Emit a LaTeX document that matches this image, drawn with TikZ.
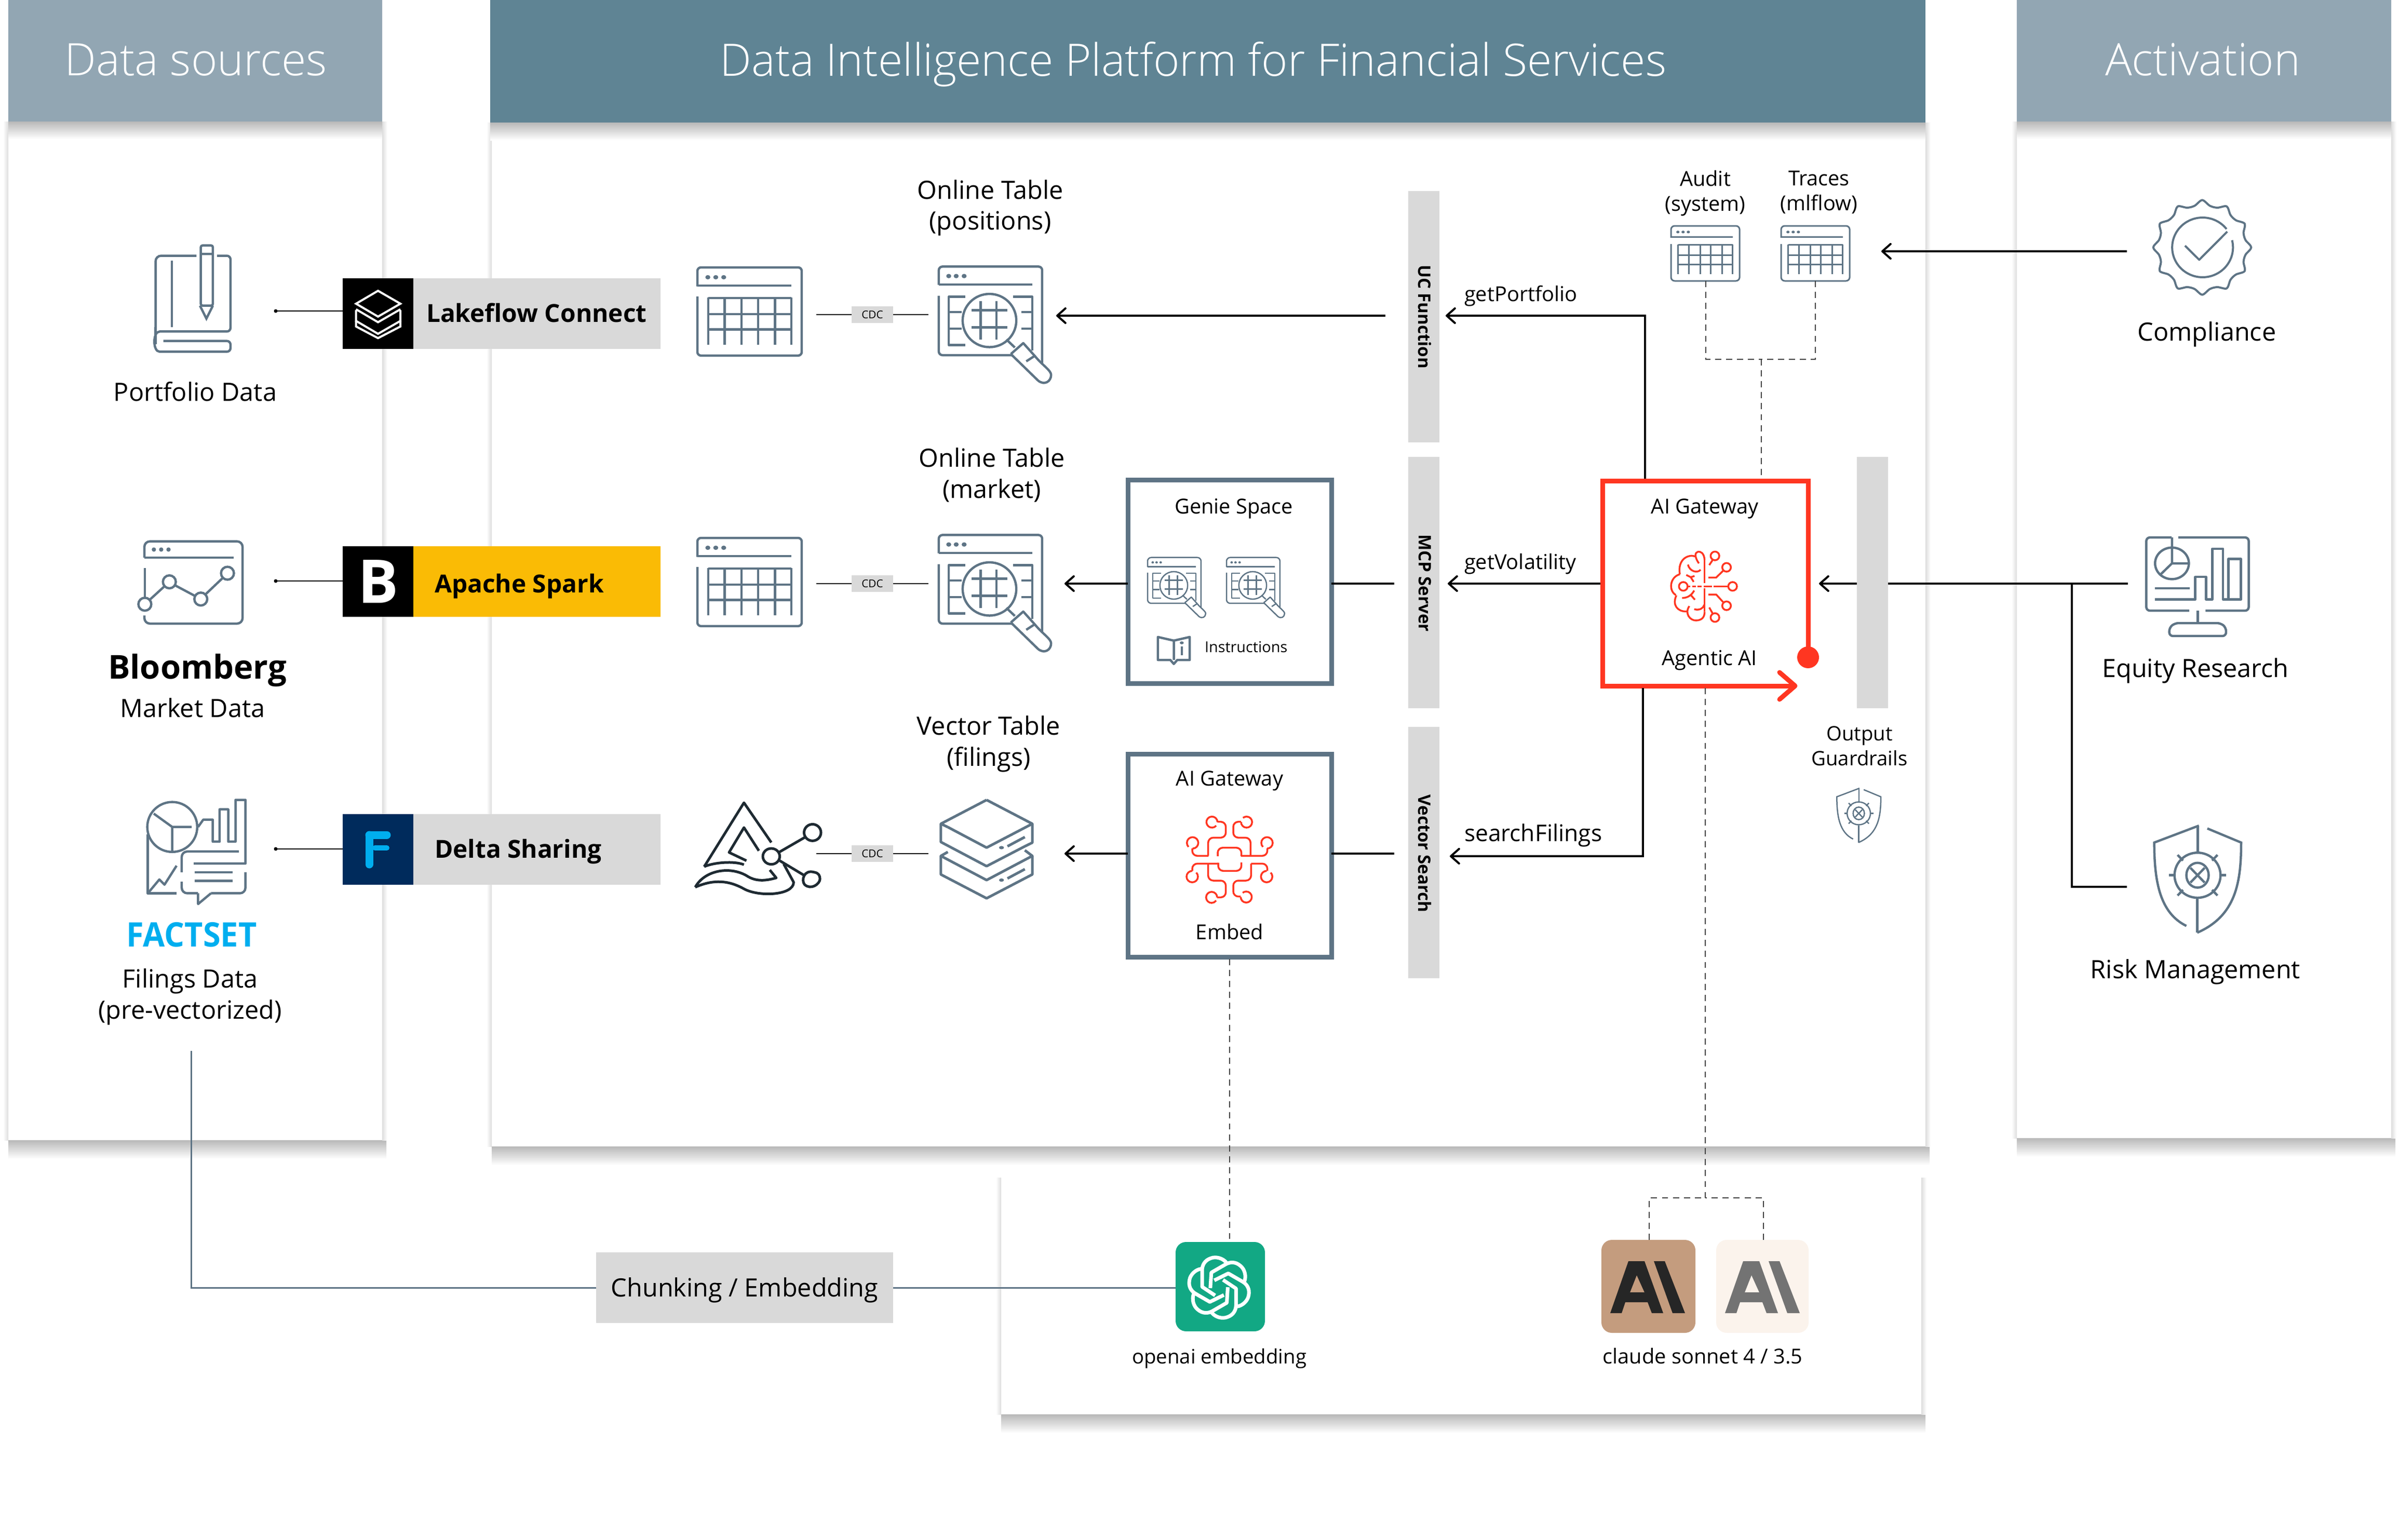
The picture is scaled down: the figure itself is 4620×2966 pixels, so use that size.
\documentclass[tikz,border=0pt]{standalone}
\usepackage{fontspec}
\setmainfont{Open Sans}
\IfFontExistsTF{Open Sans Light}{\newfontfamily\lightface{Open Sans Light}}{\newfontfamily\lightface{Open Sans}}
\usetikzlibrary{arrows.meta}
\definecolor{hdrA}{HTML}{92A6B3}
\definecolor{hdrB}{HTML}{5F8494}
\definecolor{slateC}{HTML}{5E7485}
\definecolor{grayC}{HTML}{D9D9D9}
\definecolor{redC}{HTML}{FF3621}
\definecolor{yelC}{HTML}{FABB05}
\definecolor{navyC}{HTML}{002B5C}
\definecolor{cyanC}{HTML}{00AEEF}
\definecolor{tealC}{HTML}{12A884}
\definecolor{tanC}{HTML}{C49C7E}
\definecolor{creamC}{HTML}{FBF3EC}
\definecolor{inkC}{HTML}{1E2A32}
\definecolor{shdC}{HTML}{B8B8B8}
\definecolor{shdM}{HTML}{ECECEC}
\definecolor{sideC}{HTML}{DDDDDD}
\tikzset{
  lw/.style={line width=#1*0.01cm},
  ic/.style n args={6}{shift={(#1,#2)},xscale=#3,yscale=#4,shift={(-#5,-#6)}},
  tb/.style={inner sep=0pt,outer sep=0pt,align=center},
  lab/.style={tb,execute at begin node=\strut,execute at end node=\strut},
  big/.style={lab,yshift=-1.6pt,font=\fontsize{13.8}{17}\selectfont},
  mid/.style={lab,yshift=-1.35pt,font=\fontsize{11.3}{13.6}\selectfont},
  midless/.style={lab,yshift=-1.35pt,font=\fontsize{10.9}{13.6}\selectfont},
  midplus/.style={lab,yshift=-1.5pt,font=\fontsize{12.6}{15}\selectfont},
  hdrtext/.style={lab,yshift=-3.4pt,text=white,font=\lightface\fontsize{24.5}{26}\selectfont},
  strong/.style={lab,yshift=-1.9pt,font=\bfseries\fontsize{13.6}{15}\selectfont},
  vert/.style={tb,rotate=-90,font=\bfseries\fontsize{9.4}{11}\selectfont},
  conn/.style={draw=black,lw=4,{Straight Barb[length=4.5pt,width=8pt,round]}-},
  plainconn/.style={draw=black,lw=4},
  thin conn/.style={draw=black,lw=2},
  dash conn/.style={draw=black!75,lw=2,dash pattern=on 3.4pt off 2.6pt},
  slate conn/.style={draw=slateC,lw=3},
  box/.style={draw=slateC,lw=9,fill=white},
}
\newcommand\pbox[7]{\node[inner sep=0pt,outer sep=0pt,minimum width={(#4-#2)*0.01cm},minimum height={(#5-#3)*0.01cm},#6] (#1) at ({(#2+#4)/2},{(#3+#5)/2}) {#7};}
\newcommand\carc[5]{\draw ({#1+#3*cos(#4)},{#2+#3*sin(#4)}) arc[start angle=#4,end angle=#5,radius=#3];}
\newcommand\sidepanel[4]{%
  \shade[top color=shdC,middle color=shdM,bottom color=white] (#1,#4) rectangle (#3+8,#4+36);
  \shade[left color=white,right color=sideC] (#1-10,#2) rectangle (#1,#4);
  \shade[left color=sideC,right color=white] (#3,#2) rectangle (#3+10,#4);
}
\newcommand\hdrshadow[3]{\shade[top color=shdC,middle color=shdM,bottom color=white] (#1,#3) rectangle (#2,#3+34);}
\newcommand\tableicon[5]{%
\begin{scope}[ic={#1}{#2}{#3}{#4}{66}{378},draw=slateC,fill=slateC,lw=#5,line cap=butt]
 \draw[rounded corners=2pt] (66,430)--(66,378)--(276,378)--(276,620)--(66,620)--(66,458);
 \draw (66,428)--(255,428);
 \fill (87,405) ellipse[x radius=5,y radius=6] (103,405) ellipse[x radius=5,y radius=6] (119,405) ellipse[x radius=5,y radius=6];
 \foreach \a in {88,121,155,188,222,255}{\draw (\a,460)--(\a,590);}
 \foreach \b in {462,506,548}{\draw (88,\b)--(255,\b);}
\end{scope}}
\newcommand\searchicon[5]{%
\begin{scope}[ic={#1}{#2}{#3}{#4}{550}{373},draw=slateC,fill=slateC,lw=#5,line join=round]
 \draw[rounded corners=2pt] (552,425)--(552,375)--(760,375)--(760,640);
 \draw (552,424)--(740,424);
 \fill (572,401) ellipse[x radius=5,y radius=6] (587,401) ellipse[x radius=5,y radius=6] (603,401) ellipse[x radius=5,y radius=6];
 \draw[rounded corners=2pt] (552,455)--(552,618)--(700,618);
 \draw (654,523) ellipse[x radius=54,y radius=73];
 \draw (636,470)--(636,575) (668,470)--(668,575) (618,495)--(690,495) (618,542)--(690,542);
 \draw (605,458)--(572,458)--(572,590)--(605,590) (572,500)--(598,500) (572,545)--(598,545);
 \draw (702,458)--(740,458)--(740,605) (718,500)--(740,500) (718,545)--(740,545);
 \draw (688,575)--(705,597);
 \draw (697,615)--(722,585)--(745,620)--(728,635);
 \draw (697,615)--(752,688) .. controls (765,702) and (778,690) .. (778,672) .. controls (778,660) and (760,645) .. (745,620);
\end{scope}}
\newcommand\shieldicon[5]{%
\begin{scope}[ic={#1}{#2}{#3}{#4}{842}{1188},draw=slateC,lw=#5]
 \draw (975,1190)--(843,1220) .. controls (843,1290) and (860,1345) .. (938,1368);
 \draw (972,1190)--(972,1240) (970,1320)--(970,1380);
 \draw (1000,1195)--(1100,1220) .. controls (1100,1290) and (1085,1350) .. (970,1380);
 \draw (971,1278) ellipse[x radius=68,y radius=40];
 \draw (971,1278) ellipse[x radius=33,y radius=22];
 \draw (950,1265)--(992,1291) (992,1265)--(950,1291);
 \draw (887,1278)--(903,1278) (1040,1278)--(1056,1278);
 \draw (912,1242)--(928,1252) (1030,1242)--(1014,1252) (912,1314)--(928,1304) (1030,1314)--(1014,1304);
\end{scope}}
\begin{document}
\begin{tikzpicture}[x=0.01cm,y=-0.01cm]
\useasboundingbox (0,0) rectangle (4620,2966);
% panels
\sidepanel{16}{234}{736}{2196}
\sidepanel{947}{236}{3708}{2208}
\sidepanel{3884}{234}{4605}{2192}
\sidepanel{1928}{2268}{3700}{2724}
\hdrshadow{16}{736}{234}
\hdrshadow{944}{3708}{236}
\hdrshadow{3884}{4605}{234}
\pbox{hA}{16}{0}{736}{234}{fill=hdrA}{}
\pbox{hB}{944}{0}{3708}{236}{fill=hdrB}{}
\pbox{hC}{3884}{0}{4605}{234}{fill=hdrA}{}
\node[hdrtext] (tA) at (377,115) {Data sources};
\node[hdrtext] (tB) at (2298,115) {Data Intelligence Platform for Financial Services};
\node[hdrtext] (tC) at (4242,115) {Activation};
% source labels
\begin{scope}[ic={298}{471}{0.829}{0.829}{360}{568},draw=slateC,lw=4.5]
 \draw[rounded corners=3pt] (457,594)--(362,594)--(362,770);
 \draw (400,605)--(400,760);
 \draw[rounded corners=2pt] (505,594)--(536,594)--(536,770)--(380,770) .. controls (355,770) and (355,817) .. (380,817)--(536,817)--(536,792)--(380,792);
 \draw (362,760)--(362,800);
 \draw[rounded corners=1pt] (467,710)--(467,570)--(495,570)--(495,710)--cycle;
 \draw (467,590)--(495,590) (465,710)--(480,740)--(495,710);
\end{scope}
\node[big] (lPort) at (376,755) {Portfolio Data};
\begin{scope}[ic={264}{1041}{0.829}{0.829}{318}{1256},draw=slateC,lw=4.5]
 \draw[rounded corners=3pt] (335,1296)--(335,1258)--(563,1258)--(563,1449)--(335,1449)--(335,1430);
 \draw (335,1296)--(542,1296);
 \fill[slateC] (357,1277) circle[radius=5] (374,1277) circle[radius=5] (391,1277) circle[radius=5];
 \draw (336,1320)--(336,1390);
 \draw (336,1404) circle[radius=15] (393,1352) circle[radius=15] (466,1392) circle[radius=15] (528,1332) circle[radius=15];
 \draw (347,1394)--(382,1362) (406,1360)--(453,1385) (477,1381)--(517,1343);
\end{scope}
\node[lab,yshift=-2.3pt,font=\bfseries\fontsize{18}{21}\selectfont] (lBloom) at (380,1285) {Bloomberg};
\node[big] (lMarket) at (371,1364) {Market Data};
\begin{scope}[ic={282}{1538}{0.829}{0.829}{340}{1587},draw=slateC,lw=4.5,line join=round]
 \draw (400,1653) circle[radius=58];
 \draw (357,1622)--(400,1653)--(445,1653) (400,1653)--(400,1710);
 \draw (460,1653)--(472,1636)--(494,1636)--(494,1687)--(510,1687)--(510,1612)--(530,1612)--(530,1687)--(547,1687)--(547,1590)--(570,1590)--(570,1738)--(450,1738);
 \draw[rounded corners=3pt] (555,1710)--(422,1710)--(422,1758);
 \draw (452,1758)--(540,1758) (452,1778)--(540,1778);
 \draw[rounded corners=3pt] (422,1780)--(422,1807)--(460,1807);
 \draw (460,1807)--(460,1832)--(490,1807);
 \draw[rounded corners=3pt] (490,1807)--(570,1807)--(570,1758);
 \draw (343,1670)--(343,1807)--(410,1807);
 \draw (345,1805)--(370,1775)--(382,1787)--(410,1743);
\end{scope}
\node[tb,text=cyanC,xscale=0.94,font=\bfseries\fontsize{18.5}{20}\selectfont] (lFact) at (369,1800) {FACTSET};
\node[big] (lFiling) at (366,1917) {Filings Data\\(pre-vectorized)};
% badges
\pbox{bgA}{796}{536}{1272}{672}{fill=grayC}{}
\pbox{sqA}{660}{536}{796}{672}{fill=black}{}
\pbox{bgB}{796}{1052}{1272}{1188}{fill=yelC}{}
\pbox{sqB}{660}{1052}{796}{1188}{fill=black}{}
\pbox{bgC}{796}{1568}{1272}{1704}{fill=grayC}{}
\pbox{sqC}{660}{1568}{796}{1704}{fill=navyC}{}
\node[strong,anchor=west] (tLake) at (821,603) {Lakeflow Connect};
\node[strong,anchor=west] (tSpark) at (837,1124) {Apache Spark};
\node[strong,anchor=west] (tDelta) at (837,1635) {Delta Sharing};
\begin{scope}[ic={660}{536}{0.829}{0.829}{796}{646},draw=white,lw=4]
 \draw (878,675)--(930,705)--(878,735)--(827,705)--cycle;
 \draw (827,718)--(878,748)--(930,718);
 \draw (827,720)--(827,745)--(878,775)--(930,745)--(930,720);
 \draw (827,745)--(827,758)--(878,785)--(930,758)--(930,745);
\end{scope}
\node[tb,text=white,font=\bfseries\fontsize{33}{33}\selectfont] (tB2) at (728,1120) {B};
\draw[cyanC,lw=15,line cap=round] (711,1608)--(711,1665) (711,1608)--(745,1608);
\draw[cyanC,lw=10,line cap=round] (722,1633)--(745,1633);
% dots and thin connectors
\coordinate (dotA) at (531,599); \coordinate (dotB) at (531,1119); \coordinate (dotC) at (531,1635);
\coordinate (sqAw) at (660,599); \coordinate (sqBw) at (660,1119); \coordinate (sqCw) at (660,1635);
\draw[thin conn] (dotA)--(sqAw); \draw[thin conn] (dotB)--(sqBw); \draw[thin conn] (dotC)--(sqCw);
\fill (dotA) circle[radius=3.5] (dotB) circle[radius=3.5] (dotC) circle[radius=3.5];
% chunking line
\coordinate (fileEnd) at (368,2024);
\pbox{chunk}{1148}{2412}{1720}{2548}{fill=grayC}{}
\node[big] (tChunk) at (1434,2480) {Chunking / Embedding};
\pbox{openai}{2264}{2392}{2436}{2564}{fill=tealC,rounded corners=5.7pt}{}
\coordinate (oaL) at (2264,2480);
\draw[slate conn] (fileEnd)|-(chunk.west);
\draw[slate conn] (chunk.east)--(oaL);
\begin{scope}[ic={2260}{2390}{0.3333}{0.3333}{0}{0},draw=white,lw=7,line join=round]
\foreach \a in {0,60,120,180,240,300}{
 \draw[rotate around={\a:(263,270)}] (305,125) .. controls (285,100) and (245,88) .. (215,100) .. controls (180,112) and (165,140) .. (165,170)--(165,265)--(240,315);
}
\end{scope}
% row 1
\tableicon{1343}{515}{0.957}{0.702}{4.5}
\searchicon{1806}{512}{0.957}{0.702}{4.5}
\node[big] (tOT1) at (1907,398) {Online Table\\(positions)};
\coordinate (cdcA1) at (1572,606); \coordinate (cdcA2) at (1788,606);
\pbox{cdcA}{1640}{590}{1720}{622}{fill=grayC,font=\fontsize{5.9}{7}\selectfont}{CDC}
\draw[thin conn] (cdcA1)--(cdcA.west) (cdcA.east)--(cdcA2);
% row 2
\tableicon{1343}{1036}{0.957}{0.702}{4.5}
\searchicon{1806}{1029}{0.957}{0.702}{4.5}
\node[big] (tOT2) at (1910,914) {Online Table\\(market)};
\coordinate (cdcB1) at (1572,1124); \coordinate (cdcB2) at (1788,1124);
\pbox{cdcB}{1640}{1108}{1720}{1140}{fill=grayC,font=\fontsize{5.9}{7}\selectfont}{CDC}
\draw[thin conn] (cdcB1)--(cdcB.west) (cdcB.east)--(cdcB2);
% row 3
\begin{scope}[ic={1337}{1546}{0.957}{0.638}{60}{385},draw=inkC,lw=5,line join=round]
 \draw (80,578)--(160,385)--(215,505);
 \draw (190,530)--(160,460)--(130,535)--(165,560);
 \draw (80,578) .. controls (100,565) and (140,560) .. (160,572);
 \draw (62,640) .. controls (80,590) and (130,575) .. (165,605) .. controls (185,625) and (205,620) .. (225,612)--(212,588);
 \draw (62,640) .. controls (100,615) and (130,620) .. (160,645) .. controls (190,670) and (260,665) .. (260,625)--(240,570);
 \draw (215,547) ellipse[x radius=17,y radius=24];
 \draw (298,475) ellipse[x radius=17,y radius=25];
 \draw (302,595) .. controls (280,585) and (275,620) .. (282,632) .. controls (295,650) and (313,630) .. (313,615) .. controls (313,605) and (310,597) .. (302,595);
 \draw (230,535)--(282,490) (232,560)--(282,605);
\end{scope}
\begin{scope}[ic={1810}{1540}{0.957}{0.638}{554}{377},draw=slateC,lw=5,line join=round]
 \draw (648,378)--(740,450)--(648,522)--(570,460);
 \draw (570,460)--(556,450)--(648,378);
 \draw (556,450)--(556,505)--(648,578)--(725,518)--(740,507)--(740,450);
 \fill[slateC] (678,522) circle[radius=5]; \draw (690,518)--(725,490);
 \draw (570,535)--(556,547)--(648,620)--(740,547)--(725,530);
 \draw (556,547)--(556,603)--(648,675)--(740,603)--(740,547);
 \fill[slateC] (678,620) circle[radius=5]; \draw (690,615)--(725,587);
\end{scope}
\node[big] (tVT) at (1904,1430) {Vector Table\\(filings)};
\coordinate (cdcC1) at (1572,1644); \coordinate (cdcC2) at (1788,1644);
\pbox{cdcC}{1640}{1628}{1720}{1660}{fill=grayC,font=\fontsize{5.9}{7}\selectfont}{CDC}
\draw[thin conn] (cdcC1)--(cdcC.west) (cdcC.east)--(cdcC2);
% genie box
\pbox{genie}{2172}{924}{2564}{1316}{box}{}
\node[mid] (tGenie) at (2376,975) {Genie Space};
\searchicon{2209}{1073}{0.495}{0.363}{2.5}
\searchicon{2361}{1073}{0.495}{0.363}{2.5}
\begin{scope}[ic={2227}{1224}{0.957}{0.702}{990}{1388},draw=slateC,lw=4.5,line join=round]
 \draw (1025,1402)--(993,1392)--(993,1455)--(1018,1455)--(1025,1466)--(1032,1455)--(1057,1455)--(1057,1392)--(1025,1402)--(1025,1455);
 \fill[slateC] (1041,1408) circle[radius=4];
 \draw (1041,1418)--(1041,1442);
\end{scope}
\node[tb,anchor=west,font=\fontsize{8.2}{10}\selectfont] (tInstr) at (2320,1246) {Instructions};
% embed box
\pbox{embed}{2172}{1452}{2564}{1843}{box}{}
\node[mid] (tGw2) at (2368,1499) {AI Gateway};
\node[mid] (tEmbed) at (2368,1795) {Embed};
\begin{scope}[ic={2270}{1560}{0.3333}{0.3333}{0}{0},draw=redC,lw=3.5]
 \carc{192}{70}{32}{40}{360}
 \carc{392}{70}{32}{180}{-130}
 \carc{80}{190}{33}{90}{-225}
 \carc{510}{190}{33}{90}{-225}
 \carc{78}{385}{33}{-90}{-405}
 \carc{508}{385}{33}{-90}{-405}
 \carc{190}{505}{32}{0}{-325}
 \carc{390}{503}{32}{180}{-130}
 \begin{scope}[rounded corners=2.8pt]
 \draw (224,68)--(272,68)--(272,160)--(170,160)--(170,265);
 \draw (172,265)--(78,265)--(78,222);
 \draw (225,267)--(225,218)--(362,218)--(362,267);
 \draw (360,265)--(512,265)--(512,222);
 \draw (415,265)--(415,160)--(315,160)--(315,68)--(360,68);
 \draw (78,352)--(78,310)--(228,310);
 \draw (228,305)--(228,352)--(362,352)--(362,303);
 \draw (170,310)--(170,408)--(272,408)--(272,505)--(222,505);
 \draw (418,310)--(512,310)--(512,352);
 \draw (418,310)--(418,408)--(315,408)--(315,500)--(358,500);
 \end{scope}
\end{scope}
% bars
\pbox{barUC}{2712}{368}{2772}{852}{fill=grayC}{}
\pbox{barMCP}{2712}{880}{2772}{1364}{fill=grayC}{}
\pbox{barVS}{2712}{1400}{2772}{1884}{fill=grayC}{}
\pbox{barOut}{3576}{880}{3636}{1364}{fill=grayC}{}
\node[vert] (tUC) at (2744,610) {UC Function};
\node[vert] (tMCP) at (2744,1123) {MCP Server};
\node[vert] (tVS) at (2744,1644) {Vector Search};
% red agent box
\coordinate (redDot) at (3482,1266);
\coordinate (redC1) at (3482,926); \coordinate (redC2) at (3086,926); \coordinate (redC3) at (3086,1321); \coordinate (redTip) at (3457,1321);
\draw[redC,lw=9] (redDot)--(redC1)--(redC2)--(redC3)--(redTip);
\draw[redC,lw=9,line cap=round,line join=round] (3427,1295)--(redTip)--(3427,1347);
\fill[redC] (redDot) circle[radius=21];
\coordinate (redTop) at (3168,922); \coordinate (redL) at (3082,1124); \coordinate (redBot) at (3164,1325); \coordinate (redR) at (3503,1124); \coordinate (redTopD) at (3392,922); \coordinate (redBotD) at (3284,1325);
\node[mid] (tGw1) at (3283,975) {AI Gateway};
\node[mid] (tAg) at (3292,1267) {Agentic AI};
\begin{scope}[ic={3200}{1050}{0.3333}{0.3333}{0}{0},draw=redC,lw=3.5,line cap=butt]
 \draw (248,85) .. controls (245,45) and (225,35) .. (210,38) .. controls (195,42) and (185,60) .. (215,105);
 \draw (195,65) .. controls (155,50) and (90,80) .. (105,168);
 \draw (105,168) .. controls (45,185) and (40,265) .. (82,288);
 \draw (85,290) .. controls (60,345) and (90,385) .. (145,383);
 \draw (160,352) .. controls (130,395) and (165,437) .. (200,435) .. controls (235,433) and (248,415) .. (248,385);
 \draw (248,75)--(248,220) (248,250)--(248,385);
 \draw (152,112) .. controls (160,150) and (205,165) .. (225,142);
 \draw (142,172)--(168,185)--(185,212) (168,185)--(190,178);
 \draw (118,305) .. controls (150,305) and (172,290) .. (188,262) (170,290)--(192,315);
 \draw (188,370) .. controls (220,378) and (240,365) .. (246,345);
 \draw (125,238) circle[radius=25] (410,238) circle[radius=25] (308,62) circle[radius=25] (375,128) circle[radius=25] (375,350) circle[radius=25] (308,418) circle[radius=25];
 \draw (150,238)--(165,238) (177,238)--(198,238) (207,238)--(232,238) (243,238)--(290,238) (300,238)--(385,238);
 \draw (275,115)--(295,85) (270,187)--(315,187)--(358,145) (270,285)--(315,285)--(358,332) (275,360)--(295,395);
\end{scope}
% labels on arrows
\node[mid,anchor=west] (tgP) at (2820,566) {getPortfolio};
\node[mid,anchor=west] (tgV) at (2820,1082) {getVolatility};
\node[midplus,anchor=west] (tsF) at (2820,1605) {searchFilings};
% audit tables
\tableicon{3218}{435}{0.629}{0.438}{3}
\tableicon{3430}{435}{0.629}{0.438}{3}
\node[mid] (tAud) at (3284,370) {Audit\\(system)};
\node[mid] (tTrc) at (3503,370) {Traces\\(mlflow)};
\coordinate (audB) at (3285,541); \coordinate (trcB) at (3496,541); \coordinate (audJ) at (3392,692);
\draw[dash conn] (audB)|-(audJ) (trcB)|-(audJ);
\draw[dash conn] (audJ)--(redTopD);
% Output guardrails
\node[midless] (tOG) at (3581,1439) {Output\\Guardrails};
\shieldicon{3537}{1517}{0.33}{0.55}{2.5}
% activation
\begin{scope}[ic={4146}{381}{0.651}{1.085}{840}{75},draw=slateC,lw=4,line join=round]
 \draw plot[smooth cycle,domain=0:350,samples=36] ({986+(135+10*cos(12*\x))*cos(\x)},{163+(78+6*cos(12*\x))*sin(\x)});
 \draw plot[smooth,domain=38:374,samples=40] ({987+90*cos(\x)},{163-53*sin(\x)});
 \draw (935,160)--(977,185)--(1060,135);
\end{scope}
\node[big] (tComp) at (4250,639) {Compliance};
\begin{scope}[ic={4132}{1034}{0.651}{1.085}{818}{677},draw=slateC,lw=4.5,line join=round]
 \draw[rounded corners=2pt] (895,678)--(820,678)--(820,808)--(947,808);
 \draw[rounded corners=2pt] (995,808)--(1123,808)--(1123,678)--(915,678);
 \draw (972,808)--(972,830);
 \draw[rounded corners=2pt] (888,853)--(888,838)--(905,830)--(1040,830)--(1056,838)--(1056,853)--cycle;
 \draw (896,724) ellipse[x radius=50,y radius=28];
 \draw (896,678)--(896,724)--(946,724) (896,724)--(860,745);
 \draw (845,768)--(948,768);
 \draw (845,788)--(965,788)--(965,748)--(997,748)--(997,788)--(1015,788)--(1015,698)--(1047,698)--(1047,788)--(1063,788)--(1063,716)--(1100,716)--(1100,788)--(1063,788);
\end{scope}
\node[big] (tEq) at (4228,1287) {Equity Research};
\shieldicon{4148}{1588}{0.651}{1.085}{4.5}
\node[big] (tRisk) at (4228,1867) {Risk Management};
% main connectors
\coordinate (aA) at (2034,608); \coordinate (barUCw) at (2668,608);
\draw[conn] (aA)--(barUCw);
\coordinate (aB) at (2050,1124); \coordinate (barMw) at (2685,1124);
\draw[conn] (aB)--(aB-|genie.west); \draw[plainconn] (barMw-|genie.east)--(barMw);
\coordinate (aC) at (2050,1644); \coordinate (barVw) at (2685,1644);
\draw[conn] (aC)--(aC-|embed.west); \draw[plainconn] (barVw-|embed.east)--(barVw);
\coordinate (aP) at (2784,608);
\draw[conn] (aP)-|(redTop);
\coordinate (aV) at (2788,1124);
\draw[conn] (aV)--(redL);
\coordinate (aS) at (2792,1649);
\draw[conn] (aS)-|(redBot);
\draw[conn] (redR)--(redR-|barOut.west);
\coordinate (eqL) at (4098,1124); \coordinate (riskL) at (4096,1708); \coordinate (branch) at (3990,1124);
\draw[plainconn] (eqL-|barOut.east)--(eqL);
\draw[plainconn] (branch)|-(riskL);
\coordinate (cmpL) at (4096,484); \coordinate (aCmp) at (3623,484);
\draw[conn] (aCmp)--(cmpL);
% bottom models
\pbox{cl1}{3084}{2388}{3265}{2567}{fill=tanC,rounded corners=5.7pt}{}
\pbox{cl2}{3305}{2388}{3483}{2567}{fill=creamC,rounded corners=5.7pt}{}
\foreach \dx/\cc in {0/black!85,221/black!55}{
 \begin{scope}[xshift=\dx*0.01cm]
 \fill[\cc,even odd rule] (3101,2529)--(3136,2429)--(3167,2429)--(3203,2529)--(3181,2529)--(3173,2508)--(3130,2508)--(3123,2529)--cycle (3152,2456)--(3139,2489)--(3167,2489)--cycle;
 \fill[\cc] (3185,2429)--(3206,2429)--(3245,2529)--(3221,2529)--cycle;
 \end{scope}}
\node[midless] (tOAI) at (2348,2612) {openai embedding};
\node[mid] (tCl) at (3279,2612) {claude sonnet 4 / 3.5};
\coordinate (clJ) at (3284,2307); \coordinate (cl1t) at (3176,2388); \coordinate (cl2t) at (3396,2388); \coordinate (oaT) at (2368,2392); \coordinate (emB) at (2368,1847);
\draw[dash conn] (emB)--(oaT);
\draw[dash conn] (redBotD)--(clJ);
\draw[dash conn] (cl1t)|-(clJ) (cl2t)|-(clJ);
\end{tikzpicture}
\end{document}
